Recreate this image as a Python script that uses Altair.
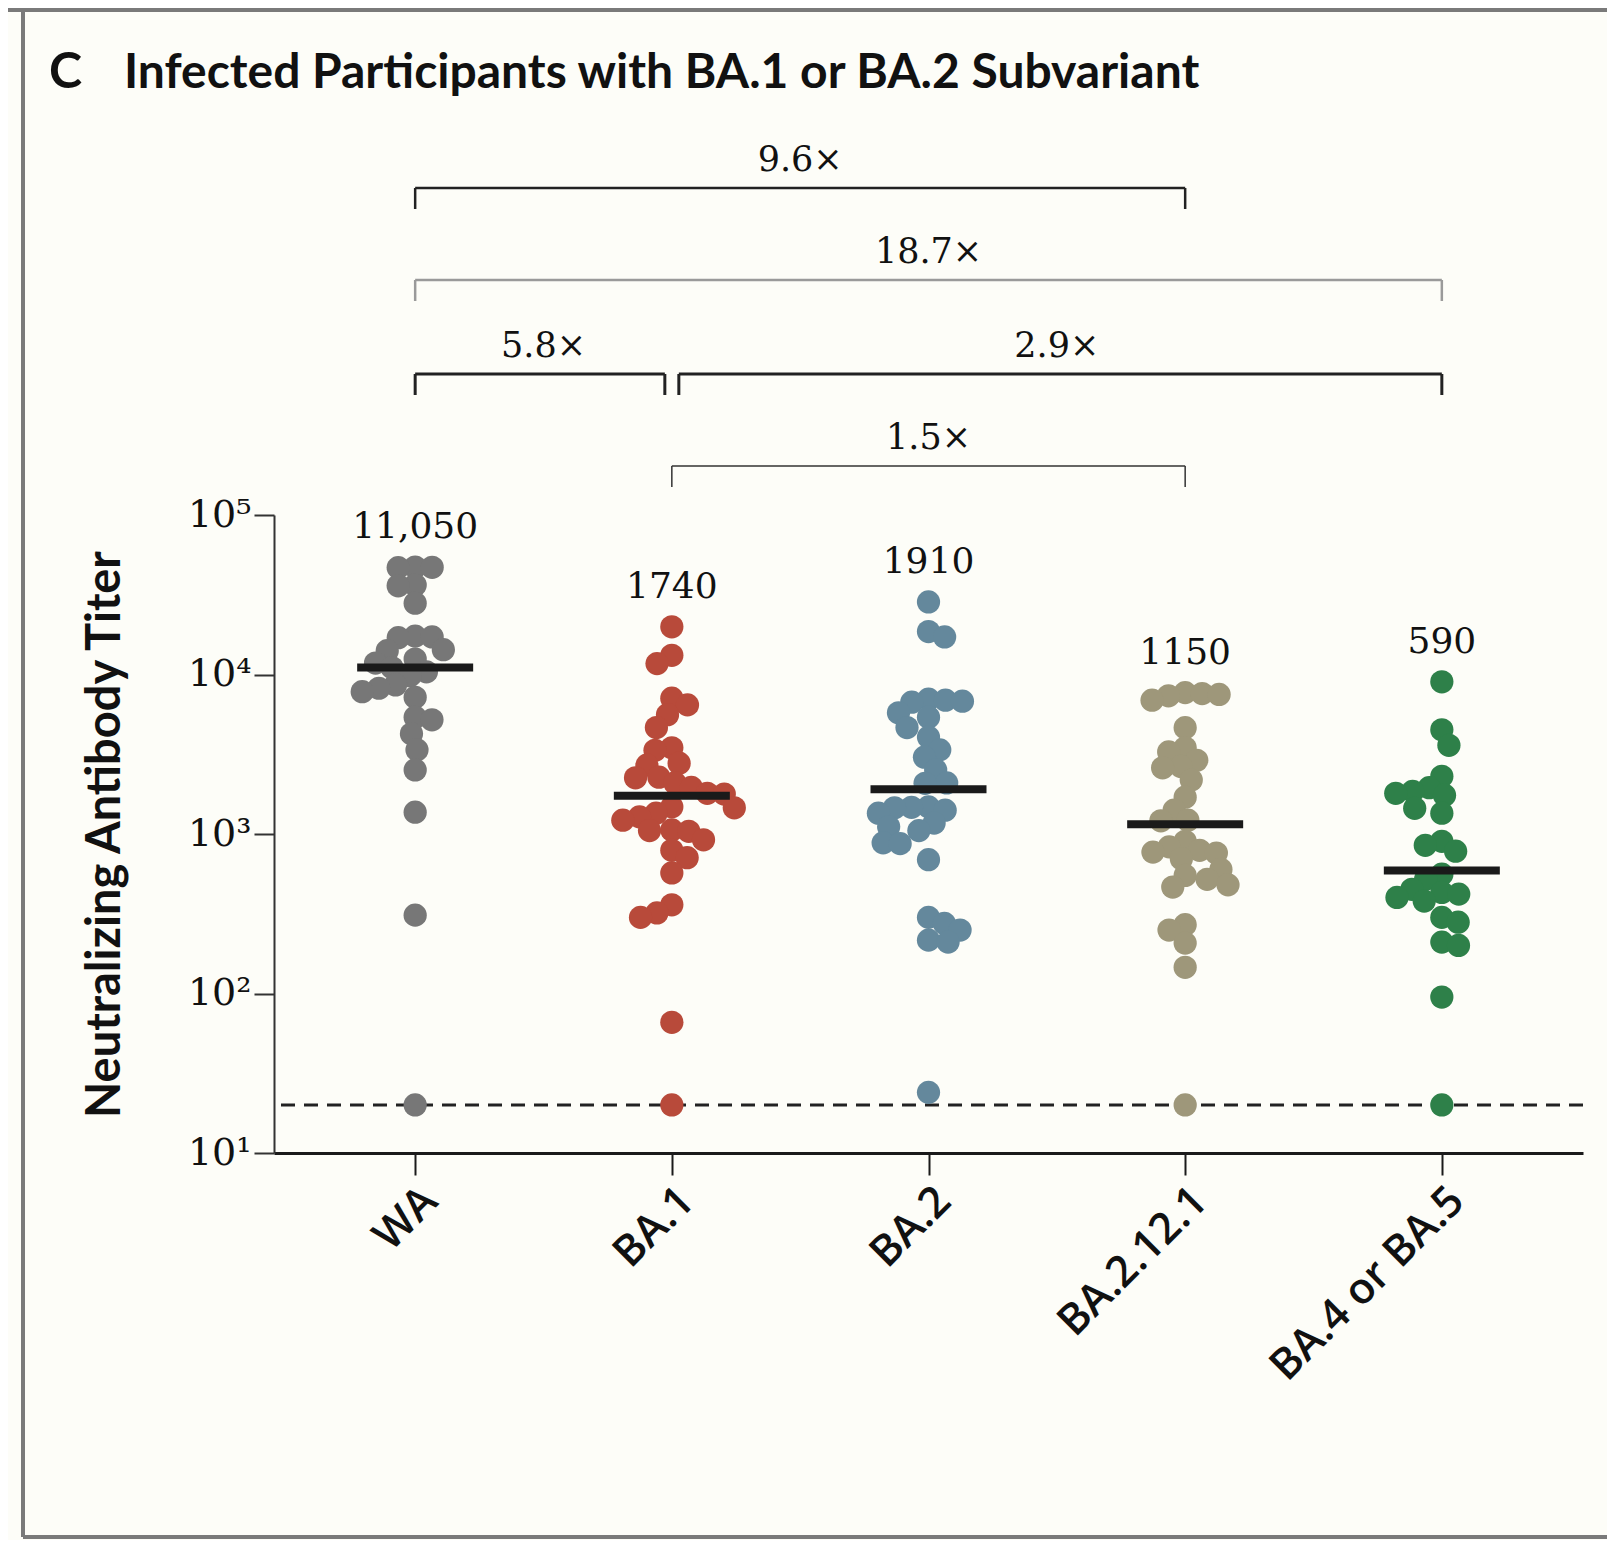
import math
import json
import pandas as pd
import altair as alt

# ---------------- data ----------------
categories = ["WA", "BA.1", "BA.2", "BA.2.12.1", "BA.4 or BA.5"]
colors = ["#777777", "#B84A3A", "#64889C", "#9E977A", "#2E8049"]

wa_titers = [47200, 47000, 46800, 36400, 36000, 28000, 17400, 17200, 17000,
             14300, 14100, 12500, 11800, 11050, 10400, 9800, 8600, 8200, 7800,
             7200, 5400, 5200, 4250, 3370, 2520, 1370, 310, 20]
ba1_titers = [19900, 13200, 11700, 7100, 6450, 5600, 4650, 3470, 3350, 2780,
              2700, 2270, 2250, 2090, 1960, 1800, 1780, 1480, 1460, 1350, 1280,
              1220, 1060, 1050, 1040, 920, 790, 710, 570, 360, 320, 300, 66, 20]
ba2_titers = [28500, 18600, 17200, 7000, 6900, 6800, 6700, 5750, 5400, 4650,
              4050, 3370, 3030, 2520, 2090, 2080, 1480, 1470, 1460, 1410, 1350,
              1170, 1110, 1050, 880, 870, 690, 300, 275, 250, 216, 210, 24]
ba2121_titers = [7700, 7600, 7500, 7350, 6900, 4640, 3470, 3270, 2900, 2650,
                 2600, 2180, 1700, 1410, 1220, 1210, 900, 830, 790, 770, 760,
                 700, 600, 550, 520, 480, 465, 270, 250, 207, 146, 20]
ba45_titers = [9000, 4500, 3600, 2300, 1950, 1850, 1800, 1750, 1450, 1350, 900,
               850, 780, 560, 520, 450, 430, 420, 400, 380, 300, 280, 210, 200,
               95, 20]
groups = [wa_titers, ba1_titers, ba2_titers, ba2121_titers, ba45_titers]

medians = [11050, 1740, 1910, 1150, 590]
median_labels = ["11,050", "1740", "1910", "1150", "590"]
lod = [20]

comp_from = ["WA", "WA", "WA", "BA.1", "BA.1"]
comp_to = ["BA.2.12.1", "BA.4 or BA.5", "BA.1", "BA.4 or BA.5", "BA.2.12.1"]
comp_fold = ["9.6×", "18.7×", "5.8×", "2.9×", "1.5×"]

panel_letter = "C"
panel_title = "Infected Participants with BA.1 or BA.2 Subvariant"
y_title = "Neutralizing Antibody Titer"
y_ticks = [10, 100, 1000, 10000, 100000]

# ---------------- layout / style ----------------
PLOT_W, PLOT_H = 1309, 638
X_DOMAIN = [-0.55, 4.55]
PX_PER_UNIT = PLOT_W / (X_DOMAIN[1] - X_DOMAIN[0])
PX_PER_DECADE = PLOT_H / 4.0
SWARM_D = 17.0
DOT_SIZE = 540
BG = "#FDFDF8"
NUM_FONT = "DejaVu Serif"
HEAD_FONT = "Lato"
LABEL_FONT = "Open Sans"

# bracket styles: (y px relative to plot top, color, width, start inset px, end inset px)
bracket_style = [
    (-327, "#222222", 2.5, 0, 0),
    (-235, "#9a9a9a", 2.5, 0, 0),
    (-141, "#222222", 3.0, 0, -7),
    (-141, "#222222", 3.0, 7, 0),
    (-49, "#333333", 1.5, 0, 0),
]
BRACKET_TICK = 21
BRACKET_LABEL_GAP = 17


def swarm_offsets(vals):
    ys = [math.log10(v) * PX_PER_DECADE for v in vals]
    order = sorted(range(len(vals)), key=lambda i: -vals[i])
    placed = []
    out = [0.0] * len(vals)
    for i in order:
        y = ys[i]
        cands = [0.0]
        for px, py in placed:
            dy = y - py
            if abs(dy) < SWARM_D:
                dx = math.sqrt(SWARM_D ** 2 - dy ** 2)
                cands += [px - dx, px + dx]
        cands = sorted(set(round(c, 6) for c in cands), key=lambda c: (abs(c), c))
        x = cands[-1]
        for c in cands:
            if all((c - px) ** 2 + (y - py) ** 2 >= SWARM_D ** 2 - 1e-6 for px, py in placed):
                x = c
                break
        placed.append((x, y))
        out[i] = x / PX_PER_UNIT
    return out


rows = []
for gi, (cat, vals) in enumerate(zip(categories, groups)):
    for v, o in zip(vals, swarm_offsets(vals)):
        rows.append({"variant": cat, "xpos": gi + o, "titer": v})
points_df = pd.DataFrame(rows)

med_df = pd.DataFrame({
    "idx": list(range(len(categories))),
    "median": medians,
    "label": median_labels,
    "top": [max(g) for g in groups],
})

br_rows, br_text = [], []
for (a, b, f), (py, col, sw, si, ei) in zip(zip(comp_from, comp_to, comp_fold), bracket_style):
    s = categories.index(a) + si / PX_PER_UNIT
    e = categories.index(b) + ei / PX_PER_UNIT
    br_rows.append({"x0": s, "x1": e, "y0": py, "y1": py, "col": col, "sw": sw})
    br_rows.append({"x0": s, "x1": s, "y0": py, "y1": py + BRACKET_TICK, "col": col, "sw": sw})
    br_rows.append({"x0": e, "x1": e, "y0": py, "y1": py + BRACKET_TICK, "col": col, "sw": sw})
    br_text.append({"xm": (categories.index(a) + categories.index(b)) / 2.0,
                    "ty": py - BRACKET_LABEL_GAP, "fold": f})
br_df = pd.DataFrame(br_rows)
brt_df = pd.DataFrame(br_text)

xscale = alt.Scale(domain=X_DOMAIN, nice=False, zero=False)
yscale = alt.Scale(type="log", domain=[10, 100000], nice=False)

label_expr = json.dumps(categories).replace('"', "'") + "[round(datum.value)]"
sup = ["⁰", "¹", "²", "³", "⁴", "⁵"]
ylabel_expr = "'10' + " + json.dumps(sup).replace('"', "'") + "[round(log(datum.value)/LN10)]"

x_axis = alt.Axis(values=list(range(len(categories))), labelExpr=label_expr, title=None,
                  grid=False, domainWidth=3, domainColor="#1a1a1a", tickWidth=2,
                  tickColor="#1a1a1a", tickSize=22, labelAngle=-45, labelAlign="right",
                  labelBaseline="top", labelFont=LABEL_FONT, labelFontSize=43,
                  labelFontWeight=600, labelColor="#111111", labelPadding=4,
                  labelFlush=False, labelOverlap=False, labelLimit=0)
y_axis = alt.Axis(values=y_ticks, labelExpr=ylabel_expr, title=y_title, grid=False,
                  domainWidth=2, domainColor="#333333", tickWidth=2, tickColor="#333333",
                  tickSize=20, labelFont=NUM_FONT, labelFontSize=38, labelColor="#111111",
                  labelPadding=3, labelOverlap=False, labelLimit=0, titleFont=HEAD_FONT,
                  titleFontSize=47, titleFontWeight="bold", titleColor="#111111",
                  titleX=-169, titleY=PLOT_H / 2, titleAngle=-90, titleAlign="center",
                  titleBaseline="middle", titleLimit=0)

lod_layer = alt.Chart(pd.DataFrame({"lod": lod})).mark_rule(
    strokeDash=[14, 9], strokeWidth=3, color="#222222"
).encode(y=alt.Y("lod:Q", scale=yscale))

points = alt.Chart(points_df).mark_circle(size=DOT_SIZE, opacity=1).encode(
    x=alt.X("xpos:Q", scale=xscale, axis=x_axis),
    y=alt.Y("titer:Q", scale=yscale, axis=y_axis),
    color=alt.Color("variant:N", scale=alt.Scale(domain=categories, range=colors), legend=None),
)

med_bars = alt.Chart(med_df).mark_tick(
    orient="horizontal", size=116, thickness=8, color="#1a1a1a", opacity=1
).encode(
    x=alt.X("idx:Q", scale=xscale),
    y=alt.Y("median:Q", scale=yscale),
)

med_text = alt.Chart(med_df).mark_text(
    dy=-29, baseline="alphabetic", align="center", font=NUM_FONT, fontSize=36, color="#111111"
).encode(
    x=alt.X("idx:Q", scale=xscale),
    y=alt.Y("top:Q", scale=yscale),
    text="label:N",
)

brackets = alt.Chart(br_df).mark_rule().encode(
    x=alt.X("x0:Q", scale=xscale),
    x2="x1:Q",
    y=alt.Y("y0:Q", scale=None),
    y2="y1:Q",
    color=alt.Color("col:N", scale=None),
    strokeWidth=alt.StrokeWidth("sw:Q", scale=None),
)

bracket_labels = alt.Chart(brt_df).mark_text(
    baseline="alphabetic", align="center", font=NUM_FONT, fontSize=35, color="#111111"
).encode(
    x=alt.X("xm:Q", scale=xscale),
    y=alt.Y("ty:Q", scale=None),
    text="fold:N",
)

one = pd.DataFrame({"k": [0]})
frame_top = alt.Chart(one).mark_rule(color="#7a7a7a", strokeWidth=4).encode(
    x=alt.value(-266), x2=alt.value(1333), y=alt.value(-505), y2=alt.value(-505))
frame_left = alt.Chart(one).mark_rule(color="#7a7a7a", strokeWidth=4).encode(
    x=alt.value(-251), x2=alt.value(-251), y=alt.value(-505), y2=alt.value(1022))
frame_bottom = alt.Chart(one).mark_rule(color="#7a7a7a", strokeWidth=4).encode(
    x=alt.value(-251), x2=alt.value(1333), y=alt.value(1022), y2=alt.value(1022))

letter = alt.Chart(pd.DataFrame({"t": [panel_letter]})).mark_text(
    align="left", baseline="alphabetic", font=HEAD_FONT, fontSize=50, fontWeight="bold",
    color="#111111"
).encode(x=alt.value(-225), y=alt.value(-427), text="t:N")
title = alt.Chart(pd.DataFrame({"t": [panel_title]})).mark_text(
    align="left", baseline="alphabetic", font=HEAD_FONT, fontSize=48, fontWeight="bold",
    color="#111111"
).encode(x=alt.value(-150), y=alt.value(-427), text="t:N")

chart = alt.layer(
    lod_layer, points, med_bars, med_text, brackets, bracket_labels,
    frame_top, frame_left, frame_bottom, letter, title,
).properties(
    width=PLOT_W, height=PLOT_H,
    autosize=alt.AutoSizeParams(type="none"),
    padding={"left": 266, "top": 507, "right": 24, "bottom": 387},
    background=BG,
).configure_view(stroke=None)

chart.save("out.html", embed_options={"renderer": "svg", "actions": False})
